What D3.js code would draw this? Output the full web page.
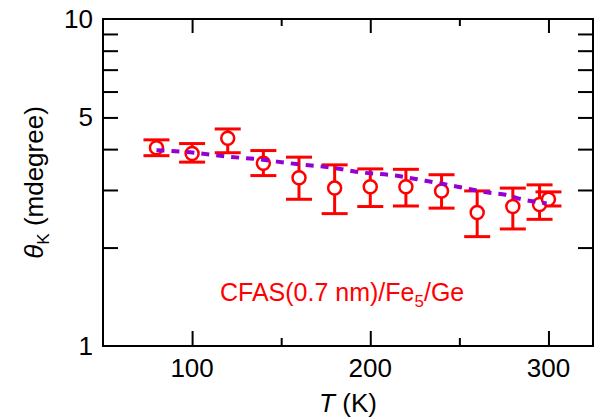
<!DOCTYPE html>
<meta charset="utf-8">
<style>
  body { margin: 0; background: #fff; }
  * { font-family: 'Liberation Sans', Arial, sans-serif; }
</style>
<svg width="595" height="420"></svg>
<script src="https://d3js.org/d3.v7.min.js"></script>
<script>
// measured points (T in K, theta_K in mdegree)
var temps  = [80, 100, 120, 140, 160, 180, 200, 220, 240, 260, 280, 295, 300];
var theta  = [4.04, 3.88, 4.32, 3.62, 3.27, 3.04, 3.07, 3.07, 2.98, 2.56, 2.67, 2.71, 2.81];
var errHi  = [4.27, 4.16, 4.61, 3.96, 3.78, 3.58, 3.48, 3.47, 3.34, 2.98, 3.04, 3.11, 2.96];
var errLo  = [3.82, 3.65, 3.90, 3.32, 2.81, 2.54, 2.67, 2.68, 2.64, 2.16, 2.28, 2.44, 2.68];

// dashed fit curve
var fitT = [80, 99, 121, 138, 155, 180, 194, 214, 231, 249, 267, 276, 285, 293, 299];
var fitV = [3.97, 3.91, 3.79, 3.72, 3.62, 3.50, 3.40, 3.32, 3.20, 3.07, 2.94, 2.90, 2.81, 2.76, 2.73];

var xMajor = [100, 200, 300];
var xMinor = [150, 250];
var yLabels = [1, 5, 10];
var yMinor = [2, 3, 4, 5, 6, 7, 8, 9];

var svg = d3.select("svg"),
    margin = {top: 19, right: 2, bottom: 74, left: 103},
    width = +svg.attr("width") - margin.left - margin.right,
    height = +svg.attr("height") - margin.top - margin.bottom,
    g = svg.append("g").attr("transform", "translate(" + margin.left + "," + margin.top + ")");

var x = d3.scaleLinear().domain([50, 325]).range([0, width]);
var y = d3.scaleLog().domain([1, 10]).range([height, 0]);

var red = "#ff0000", purple = "#9400d3";

// ticks, all pointing inward
function tickAxis(axis, vals, len) {
  return axis.tickValues(vals).tickSize(-len).tickFormat("");
}
function styleAxis(sel) {
  sel.select(".domain").remove();
  sel.selectAll("line").attr("stroke", "#000").attr("stroke-width", 2);
}
g.append("g").attr("transform", "translate(0," + height + ")")
  .call(tickAxis(d3.axisBottom(x), xMajor, 15)).call(styleAxis);
g.append("g").attr("transform", "translate(0," + height + ")")
  .call(tickAxis(d3.axisBottom(x), xMinor, 8)).call(styleAxis);
g.append("g").call(tickAxis(d3.axisTop(x), xMajor, 14)).call(styleAxis);
g.append("g").call(tickAxis(d3.axisTop(x), xMinor, 7)).call(styleAxis);
g.append("g").call(tickAxis(d3.axisLeft(y), yMinor, 15)).call(styleAxis);
g.append("g").attr("transform", "translate(" + width + ",0)")
  .call(tickAxis(d3.axisRight(y), yMinor, 15)).call(styleAxis);

// tick labels
g.selectAll(".xl").data(xMajor).enter().append("text")
    .attr("x", function(d) { return x(d); })
    .attr("y", height + 31)
    .attr("text-anchor", "middle")
    .style("font-size", "26px")
    .text(function(d) { return d; });
g.selectAll(".yl").data(yLabels).enter().append("text")
    .attr("x", -10)
    .attr("y", function(d) { return y(d) + 9; })
    .attr("text-anchor", "end")
    .style("font-size", "26px")
    .text(function(d) { return d; });

// frame
g.append("rect")
    .attr("width", width).attr("height", height)
    .attr("fill", "none").attr("stroke", "#000").attr("stroke-width", 2);

// error bars
var pts = temps.map(function(t, i) { return {t: t, v: theta[i], hi: errHi[i], lo: errLo[i]}; });
var eb = g.append("g").attr("stroke", red).attr("stroke-width", 3).attr("fill", "none");
pts.forEach(function(d) {
  eb.append("line").attr("x1", x(d.t)).attr("x2", x(d.t)).attr("y1", y(d.hi)).attr("y2", y(d.lo));
  eb.append("line").attr("x1", x(d.t) - 13).attr("x2", x(d.t) + 13).attr("y1", y(d.hi)).attr("y2", y(d.hi));
  eb.append("line").attr("x1", x(d.t) - 13).attr("x2", x(d.t) + 13).attr("y1", y(d.lo)).attr("y2", y(d.lo));
});

g.selectAll(".pt").data(pts).enter().append("circle")
    .attr("cx", function(d) { return x(d.t); })
    .attr("cy", function(d) { return y(d.v); })
    .attr("r", 6.5)
    .attr("fill", "#fff")
    .attr("stroke", red)
    .attr("stroke-width", 2.5);

// fit line
var fit = fitT.map(function(t, i) { return [t, fitV[i]]; });
g.append("path")
    .datum(fit)
    .attr("fill", "none")
    .attr("stroke", purple)
    .attr("stroke-width", 4)
    .attr("stroke-dasharray", "8,7")
    .attr("d", d3.line()
      .x(function(d) { return x(d[0]); })
      .y(function(d) { return y(d[1]); })
      .curve(d3.curveMonotoneX));

// annotation
var ann = g.append("text")
    .attr("x", 117)
    .attr("y", 282)
    .attr("fill", red)
    .style("font-size", "25px");
ann.append("tspan").text("CFAS(0.7 nm)/Fe");
ann.append("tspan").attr("dy", 6).style("font-size", "17px").text("5");
ann.append("tspan").attr("dy", -6).text("/Ge");

// axis titles
var xt = svg.append("text")
    .attr("x", margin.left + width / 2)
    .attr("y", 412)
    .attr("text-anchor", "middle")
    .style("font-size", "26px");
xt.append("tspan").style("font-style", "italic").text("T");
xt.append("tspan").text(" (K)");

var yt = svg.append("text")
    .attr("transform", "translate(43," + (margin.top + height / 2) + ") rotate(-90)")
    .attr("text-anchor", "middle")
    .style("font-size", "26px");
yt.append("tspan").style("font-style", "italic").text("θ");
yt.append("tspan").attr("dy", 6).style("font-size", "17px").text("K");
yt.append("tspan").attr("dy", -6).text(" (mdegree)");
</script>
